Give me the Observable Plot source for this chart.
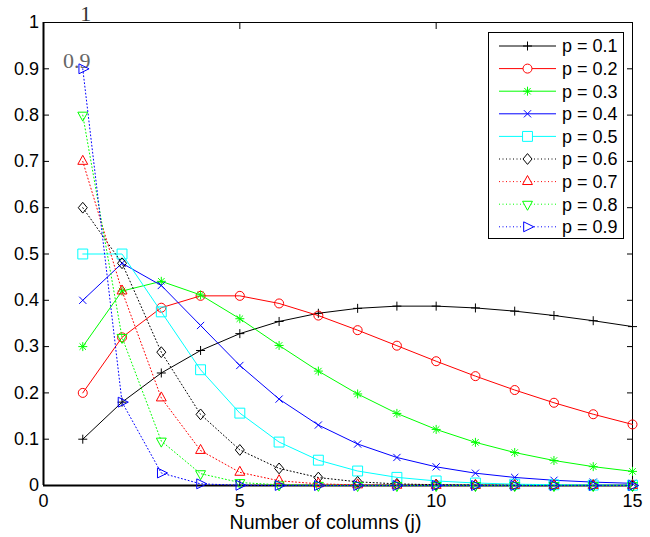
<!DOCTYPE html>
<html><head><meta charset="utf-8">
<script src="https://cdn.jsdelivr.net/npm/d3@7"></script>
<script src="https://cdn.jsdelivr.net/npm/@observablehq/plot@0.6"></script>
<style>
html,body{margin:0;padding:0;background:#fff;}
#chart{position:relative;width:650px;height:537px;}
#chart svg{position:absolute;left:0;top:0;}
</style></head><body><div id="chart"></div>
<script>
const columns = [1,2,3,4,5,6,7,8,9,10,11,12,13,14,15];
const p01 = [0.1,0.18,0.243,0.2916,0.328,0.3543,0.372,0.3826,0.3874,0.3874,0.3835,0.3766,0.3672,0.3559,0.3432];
const p02 = [0.2,0.32,0.384,0.4096,0.4096,0.3932,0.367,0.3355,0.302,0.2684,0.2362,0.2062,0.1787,0.1539,0.1319];
const p03 = [0.3,0.42,0.441,0.4116,0.3602,0.3025,0.2471,0.1977,0.1557,0.1211,0.0932,0.0712,0.054,0.0407,0.0305];
const p04 = [0.4,0.48,0.432,0.3456,0.2592,0.1866,0.1306,0.0896,0.0605,0.0403,0.0266,0.0174,0.0113,0.0073,0.0047];
const p05 = [0.5,0.5,0.375,0.25,0.1563,0.0938,0.0547,0.0313,0.0176,0.0098,0.0054,0.0029,0.0016,0.0009,0.0005];
const p06 = [0.6,0.48,0.288,0.1536,0.0768,0.0369,0.0172,0.0079,0.0035,0.0016,0.0007,0.0003,0.0001,0.0001,0];
const p07 = [0.7,0.42,0.189,0.0756,0.0284,0.0102,0.0036,0.0012,0.0004,0.0001,0,0,0,0,0];
const p08 = [0.8,0.32,0.096,0.0256,0.0064,0.0015,0.0004,0.0001,0,0,0,0,0,0,0];
const p09 = [0.9,0.18,0.027,0.0036,0.0005,0.0001,0,0,0,0,0,0,0,0,0];
const seriesNames = ["p = 0.1","p = 0.2","p = 0.3","p = 0.4","p = 0.5","p = 0.6","p = 0.7","p = 0.8","p = 0.9"];
const seriesValues = [p01,p02,p03,p04,p05,p06,p07,p08,p09];
const xTicks = [0,5,10,15];
const yTicks = [0,0.1,0.2,0.3,0.4,0.5,0.6,0.7,0.8,0.9,1];
const xLabel = "Number of columns (j)";
const noteLabels = ["1","0.9"];
const noteX = [1,1];
const noteY = [1,0.9];

// marker shapes (MATLAB-like, unfilled)
const R = Math.PI;
const sym = {
  plus: {draw(c,size){const s=Math.sqrt(size/R);c.moveTo(-s,0);c.lineTo(s,0);c.moveTo(0,-s);c.lineTo(0,s);}},
  circle: {draw(c,size){const s=Math.sqrt(size/R);c.moveTo(s,0);c.arc(0,0,s,0,2*Math.PI);c.closePath();}},
  asterisk: {draw(c,size){const s=Math.sqrt(size/R),d=s*0.72;c.moveTo(-s,0);c.lineTo(s,0);c.moveTo(0,-s);c.lineTo(0,s);c.moveTo(-d,-d);c.lineTo(d,d);c.moveTo(-d,d);c.lineTo(d,-d);}},
  times: {draw(c,size){const s=Math.sqrt(size/R),d=s*0.8;c.moveTo(-d,-d);c.lineTo(d,d);c.moveTo(-d,d);c.lineTo(d,-d);}},
  square: {draw(c,size){const s=Math.sqrt(size/R)*1.1;c.moveTo(-s,-s);c.lineTo(s,-s);c.lineTo(s,s);c.lineTo(-s,s);c.closePath();}},
  diamond: {draw(c,size){const s=Math.sqrt(size/R);c.moveTo(0,-s*1.2);c.lineTo(s,0);c.lineTo(0,s*1.2);c.lineTo(-s,0);c.closePath();}},
  triUp: {draw(c,size){const s=Math.sqrt(size/R);c.moveTo(0,-s*1.35);c.lineTo(s*1.1,s*0.65);c.lineTo(-s*1.1,s*0.65);c.closePath();}},
  triDown: {draw(c,size){const s=Math.sqrt(size/R);c.moveTo(0,s*1.35);c.lineTo(s*1.1,-s*0.65);c.lineTo(-s*1.1,-s*0.65);c.closePath();}},
  triRight: {draw(c,size){const s=Math.sqrt(size/R);c.moveTo(s*1.4,0);c.lineTo(-s*0.85,-s*1.1);c.lineTo(-s*0.85,s*1.1);c.closePath();}}
};
const styles = [
  {color:"#000000", symbol:sym.plus, dash:null},
  {color:"#ff0000", symbol:sym.circle, dash:null},
  {color:"#00ff00", symbol:sym.asterisk, dash:null},
  {color:"#0000ff", symbol:sym.times, dash:null},
  {color:"#00ffff", symbol:sym.square, dash:null},
  {color:"#000000", symbol:sym.diamond, dash:"1,2.5"},
  {color:"#ff0000", symbol:sym.triUp, dash:"1,2.5"},
  {color:"#00ff00", symbol:sym.triDown, dash:"1,2.5"},
  {color:"#0000ff", symbol:sym.triRight, dash:"1,2.5"}
];
const MR = 4.5;

const seriesMarks = [];
seriesValues.forEach((vals, k) => {
  const data = columns.map((c, i) => ({j: c, v: vals[i]}));
  const st = styles[k];
  seriesMarks.push(Plot.line(data, {x:"j", y:"v", stroke:st.color, strokeWidth:1, strokeDasharray:st.dash || undefined}));
  seriesMarks.push(Plot.dot(data, {x:"j", y:"v", r:MR, symbol:st.symbol, stroke:st.color, fill:"none", strokeWidth:1}));
});

const notes = noteLabels.map((t, i) => ({t, x: noteX[i], y: noteY[i]}));

const plot = Plot.plot({
  width: 650,
  height: 537,
  marginLeft: 43,
  marginRight: 18,
  marginTop: 22,
  marginBottom: 52,
  style: {fontFamily: "'Liberation Sans', Arial, sans-serif", fontSize: "18px", background: "white", color: "black"},
  x: {domain: [0, 15]},
  y: {domain: [0, 1]},
  marks: [
    Plot.frame({stroke: "black", strokeWidth: 1}),
    Plot.ruleX([0], {stroke: "black", strokeWidth: 2}),
    Plot.ruleY([0], {stroke: "black", strokeWidth: 2}),
    Plot.axisX({anchor: "bottom", ticks: xTicks, tickSize: -6, tickPadding: 15, label: null, tickFormat: d => String(d)}),
    Plot.axisX({anchor: "top", ticks: xTicks, tickSize: -6, tickFormat: () => "", label: null}),
    Plot.axisY({anchor: "left", ticks: yTicks, tickSize: -6, tickPadding: 10.5, label: null, tickFormat: d => String(+d.toFixed(1))}),
    Plot.axisY({anchor: "right", ticks: yTicks, tickSize: -6, tickFormat: () => "", label: null}),
    Plot.text(notes.slice(0,1), {x: "x", y: "y", text: "t", dx: 3, dy: -2, lineAnchor: "bottom", fontFamily: "'Liberation Serif', serif", fontSize: 22, fill: "#333"}),
    Plot.text(notes.slice(1), {x: "x", y: "y", text: "t", dx: -6, dy: -8, lineAnchor: "middle", fontFamily: "'Liberation Serif', serif", fontSize: 22, fill: "#666"}),
    ...seriesMarks,
    Plot.text([xLabel], {text: d => d, frameAnchor: "bottom", dx: -12.5, dy: 37, lineAnchor: "middle", fontSize: 19.5})
  ]
});
const chart = document.getElementById("chart");
chart.appendChild(plot);

// legend overlay
const lg = d3.select(chart).append("svg").attr("width", 650).attr("height", 537)
  .style("font-family", "'Liberation Sans', Arial, sans-serif").style("font-size", "18px");
lg.append("rect").attr("x", 488.5).attr("y", 32.5).attr("width", 135).attr("height", 206)
  .attr("fill", "white").attr("stroke", "black").attr("stroke-width", 1);
seriesNames.forEach((name, k) => {
  const st = styles[k];
  const yy = 46 + k * 22.6;
  const g = lg.append("g");
  g.append("line").attr("x1", 499).attr("x2", 556).attr("y1", yy).attr("y2", yy)
    .attr("stroke", st.color).attr("stroke-width", 1).attr("stroke-dasharray", st.dash);
  g.append("path").attr("transform", `translate(527.5,${yy})`)
    .attr("d", d3.symbol(st.symbol, MR * MR * Math.PI)())
    .attr("fill", "white").attr("stroke", st.color).attr("stroke-width", 1);
  g.append("text").attr("x", 562).attr("y", yy).attr("dy", "0.36em").attr("fill", "black").text(name);
});
</script></body></html>
